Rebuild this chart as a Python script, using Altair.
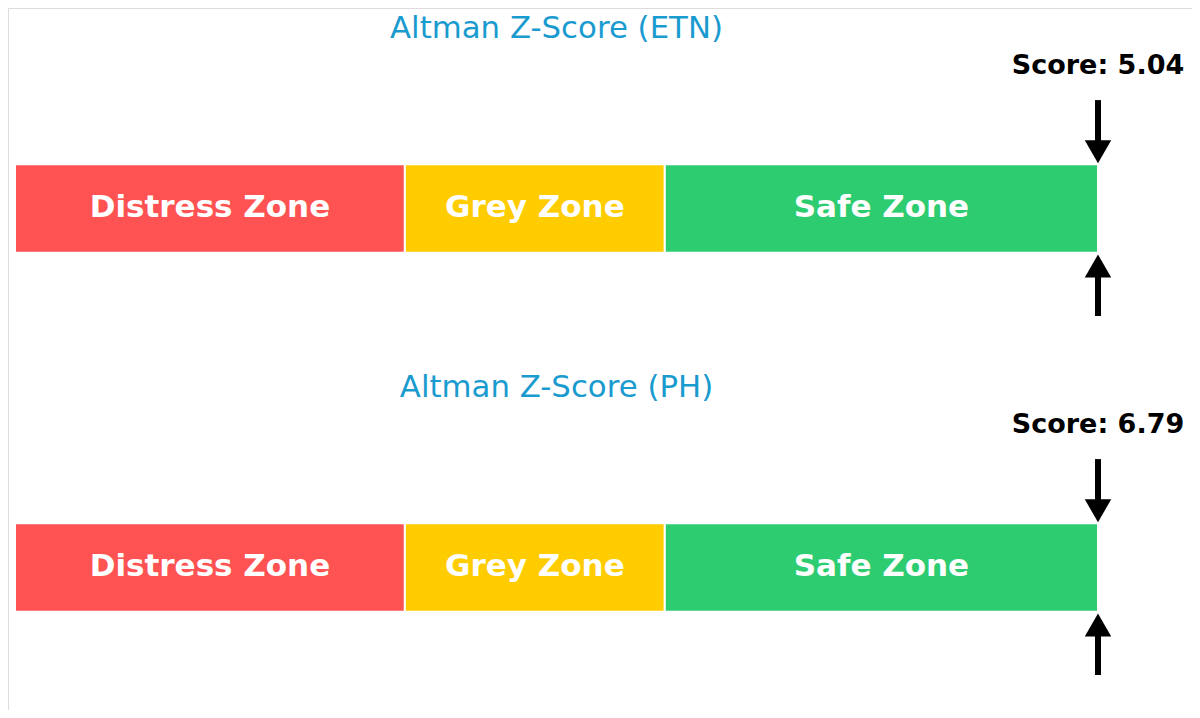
import altair as alt
import pandas as pd

companies = ["ETN", "PH"]
scores = [5.04, 6.79]

zone_labels = ["Distress Zone", "Grey Zone", "Safe Zone"]
zone_starts = [0.0, 1.8, 3.0]
zone_ends = [1.8, 3.0, 5.0]
zone_colors = ["#FF5252", "#FFCC00", "#2ECC71"]

# layout constants (panel-relative units; 1 unit = one panel)
BAR_HALF = 0.123
TITLE_Y = -0.5
SCORE_Y = -0.397
SHAFT_TOP = (-0.302, -0.185)
HEAD_TOP = -0.158
SHAFT_BOT = (0.185, 0.2995)
HEAD_BOT = 0.16

zones_rows, text_rows, arrow_rows, head_rows = [], [], [], []
for i, (c, s) in enumerate(zip(companies, scores)):
    for lab, a, b, col in zip(zone_labels, zone_starts, zone_ends, zone_colors):
        zones_rows.append(dict(company=c, zone=lab, x=a, x2=b,
                               y=i - BAR_HALF, y2=i + BAR_HALF, mid=(a + b) / 2, yc=i))
    xa = min(s, zone_ends[-1])
    text_rows.append(dict(company=c, title=f"Altman Z-Score ({c})",
                          score=f"Score: {s:.2f}", xmid=zone_ends[-1] / 2, xa=xa,
                          ty=i + TITLE_Y, sy=i + SCORE_Y))
    arrow_rows.append(dict(xa=xa, y=i + SHAFT_TOP[0], y2=i + SHAFT_TOP[1]))
    arrow_rows.append(dict(xa=xa, y=i + SHAFT_BOT[0], y2=i + SHAFT_BOT[1]))
    head_rows.append(dict(xa=xa, y=i + HEAD_TOP, shape="triangle-down"))
    head_rows.append(dict(xa=xa, y=i + HEAD_BOT, shape="triangle-up"))

zones = pd.DataFrame(zones_rows)
texts = pd.DataFrame(text_rows)
arrows = pd.DataFrame(arrow_rows)
heads = pd.DataFrame(head_rows)

xscale = alt.Scale(domain=[-0.0323, 5.434], nice=False, zero=False)
yscale = alt.Scale(domain=[-0.5585, 1.397], nice=False, zero=False, reverse=True)
noax = None

bars = alt.Chart(zones).mark_rect(stroke="white", strokeWidth=2).encode(
    x=alt.X("x:Q", scale=xscale, axis=noax),
    x2="x2:Q",
    y=alt.Y("y:Q", scale=yscale, axis=noax),
    y2="y2:Q",
    color=alt.Color("zone:N", scale=alt.Scale(domain=zone_labels, range=zone_colors), legend=None),
)

zone_text = alt.Chart(zones).mark_text(
    font="DejaVu Sans", fontWeight="bold", fontSize=31, color="white", baseline="middle"
).encode(
    x=alt.X("mid:Q", scale=xscale, axis=noax),
    y=alt.Y("yc:Q", scale=yscale, axis=noax),
    text="zone:N",
)

titles = alt.Chart(texts).mark_text(
    font="DejaVu Sans", fontSize=30.8, color="#1A9BCF", baseline="middle"
).encode(
    x=alt.X("xmid:Q", scale=xscale, axis=noax),
    y=alt.Y("ty:Q", scale=yscale, axis=noax),
    text="title:N",
)

score_text = alt.Chart(texts).mark_text(
    font="DejaVu Sans", fontWeight="bold", fontSize=27, color="black", baseline="middle"
).encode(
    x=alt.X("xa:Q", scale=xscale, axis=noax),
    y=alt.Y("sy:Q", scale=yscale, axis=noax),
    text="score:N",
)

shafts = alt.Chart(arrows).mark_rule(color="black", strokeWidth=6).encode(
    x=alt.X("xa:Q", scale=xscale, axis=noax),
    y=alt.Y("y:Q", scale=yscale, axis=noax),
    y2="y2:Q",
)

arrowheads = alt.Chart(heads).mark_point(filled=True, color="black", opacity=1, size=700).encode(
    x=alt.X("xa:Q", scale=xscale, axis=noax),
    y=alt.Y("y:Q", scale=yscale, axis=noax),
    shape=alt.Shape("shape:N", scale=None, legend=None),
)

chart = alt.layer(bars, zone_text, titles, score_text, shafts, arrowheads).properties(
    width=1184, height=702, padding=0, autosize=alt.AutoSizeParams(type="none")
).configure_view(strokeWidth=0, stroke="transparent").configure(background="white")

chart.save("out.html", embed_options={"renderer": "svg", "actions": False})
